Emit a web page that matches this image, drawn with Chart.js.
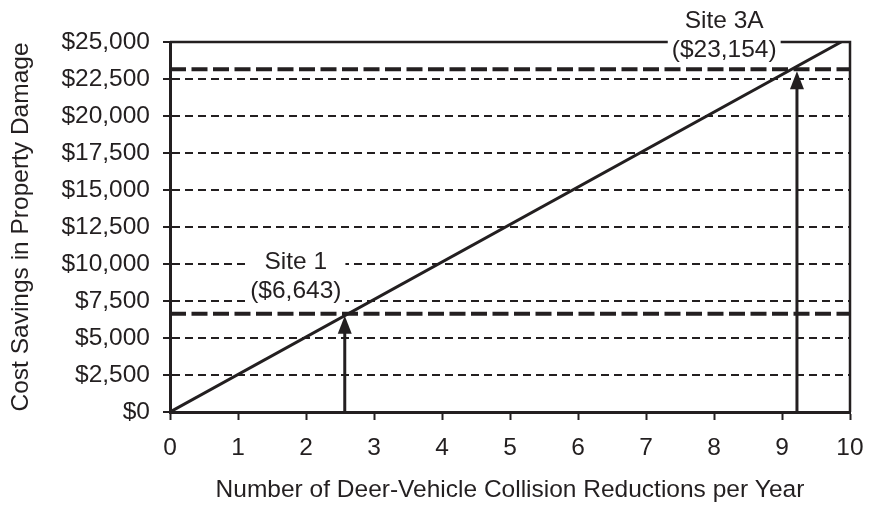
<!DOCTYPE html>
<html lang="en">
<head>
  <meta charset="UTF-8">
  <title>Cost Savings vs Deer-Vehicle Collision Reductions</title>
  <style>
    body {
      margin: 0;
      padding: 0;
      background: #fff;
    }
    canvas {
      display: block;
    }
  </style>
</head>
<body>
  <canvas id="chart" width="869" height="509"></canvas>

  <script src="https://cdn.jsdelivr.net/npm/chart.js"></script>
  <script>
    // Data
    const xTickValues = [0, 1, 2, 3, 4, 5, 6, 7, 8, 9, 10];
    const yTickValues = [0, 2500, 5000, 7500, 10000, 12500, 15000, 17500, 20000, 22500, 25000];
    const yTickLabels = ['$0', '$2,500', '$5,000', '$7,500', '$10,000', '$12,500',
                         '$15,000', '$17,500', '$20,000', '$22,500', '$25,000'];

    // savings line (collisions avoided per year -> dollars)
    const lineX = [0, 9.87];
    const lineY = [0, 25000];

    // the two sites
    const siteNames = ['Site 1', 'Site 3A'];
    const siteLabels = ['($6,643)', '($23,154)'];
    const siteSavings = [6643, 23154];
    const siteReductions = [2.57, 9.22];

    const ink = '#231f20';
    const font = '"Liberation Sans", Arial, sans-serif';
    const fontSize = 24.5;

    // where the site captions sit (data coords of the second text line)
    const captionAt = [{x: 1.85, y: 8150}, {x: 8.15, y: 24460}];

    // frame + caption boxes, drawn after the grid but under the lines
    const framePlugin = {
      id: 'frame',
      beforeDatasetsDraw(chart) {
        const {ctx, chartArea: a, scales} = chart;
        ctx.save();
        ctx.strokeStyle = ink;
        ctx.lineWidth = 2.5;
        ctx.beginPath();
        ctx.moveTo(a.left, a.top);
        ctx.lineTo(a.right, a.top);
        ctx.lineTo(a.right, a.bottom);
        ctx.stroke();

        ctx.font = fontSize + 'px ' + font;
        ctx.textAlign = 'center';
        ctx.textBaseline = 'middle';
        siteNames.forEach((name, i) => {
          const cx = scales.x.getPixelForValue(captionAt[i].x);
          const y2 = scales.y.getPixelForValue(captionAt[i].y);
          const y1 = y2 - 29;
          const w = Math.max(ctx.measureText(name).width, ctx.measureText(siteLabels[i]).width) + 8;
          ctx.fillStyle = '#fff';
          ctx.fillRect(cx - w / 2, y1 - 15, w, y2 - y1 + 28);
          ctx.fillStyle = ink;
          ctx.fillText(name, cx, y1);
          ctx.fillText(siteLabels[i], cx, y2);
        });
        ctx.restore();
      },
      afterDatasetsDraw(chart) {
        // arrows from the x axis up to each site's savings line
        const {ctx, scales} = chart;
        ctx.save();
        ctx.strokeStyle = ink;
        ctx.fillStyle = ink;
        ctx.lineWidth = 3;
        siteReductions.forEach((r, i) => {
          const x = scales.x.getPixelForValue(r);
          const yTop = scales.y.getPixelForValue(siteSavings[i]) + 2;
          const yBot = scales.y.getPixelForValue(0);
          ctx.beginPath();
          ctx.moveTo(x, yBot);
          ctx.lineTo(x, yTop + 16);
          ctx.stroke();
          ctx.beginPath();
          ctx.moveTo(x, yTop);
          ctx.lineTo(x - 7, yTop + 18);
          ctx.lineTo(x + 7, yTop + 18);
          ctx.closePath();
          ctx.fill();
        });
        ctx.restore();
      }
    };

    const siteLines = siteSavings.map(v => ({
      data: [{x: 0, y: v}, {x: 10, y: v}],
      showLine: true,
      borderColor: ink,
      borderWidth: 4,
      borderDash: [16, 5.5],
      pointRadius: 0
    }));

    new Chart(document.getElementById('chart'), {
      type: 'scatter',
      data: {
        datasets: [
          ...siteLines,
          {
            data: lineX.map((x, i) => ({x: x, y: lineY[i]})),
            showLine: true,
            borderColor: ink,
            borderWidth: 3,
            pointRadius: 0
          }
        ]
      },
      options: {
        responsive: false,
        animation: false,
        layout: {padding: {top: 42, right: 19, bottom: 0, left: 0}},
        plugins: {
          legend: {display: false},
          tooltip: {enabled: false}
        },
        scales: {
          x: {
            type: 'linear',
            min: 0,
            max: 10,
            afterFit: s => { s.height = 97; s.paddingLeft = 0; s.paddingRight = 0; },
            afterBuildTicks: s => { s.ticks = xTickValues.map(v => ({value: v})); },
            grid: {drawOnChartArea: false, tickLength: 8, tickWidth: 2, tickColor: ink, color: ink},
            border: {color: ink, width: 3},
            ticks: {
              color: ink,
              padding: 14,
              maxRotation: 0,
              font: {family: font, size: fontSize}
            },
            title: {
              display: true,
              text: 'Number of Deer-Vehicle Collision Reductions per Year',
              color: ink,
              padding: {top: 0, bottom: 4},
              font: {family: font, size: fontSize, lineHeight: 1.2}
            }
          },
          y: {
            min: 0,
            max: 25000,
            afterFit: s => { s.width = 170; s.paddingTop = 0; s.paddingBottom = 0; },
            afterBuildTicks: s => { s.ticks = yTickValues.map(v => ({value: v})); },
            grid: {color: ink, lineWidth: 2, tickLength: 7, tickWidth: 2, tickColor: ink},
            border: {color: ink, width: 3, dash: [8, 5]},
            ticks: {
              color: ink,
              padding: 13,
              font: {family: font, size: fontSize},
              callback: (v, i) => yTickLabels[i]
            },
            title: {
              display: true,
              text: 'Cost Savings in Property Damage',
              color: ink,
              padding: {top: 7, bottom: 0},
              font: {family: font, size: fontSize, lineHeight: 1.2}
            }
          }
        }
      },
      plugins: [framePlugin]
    });
  </script>
</body>
</html>
